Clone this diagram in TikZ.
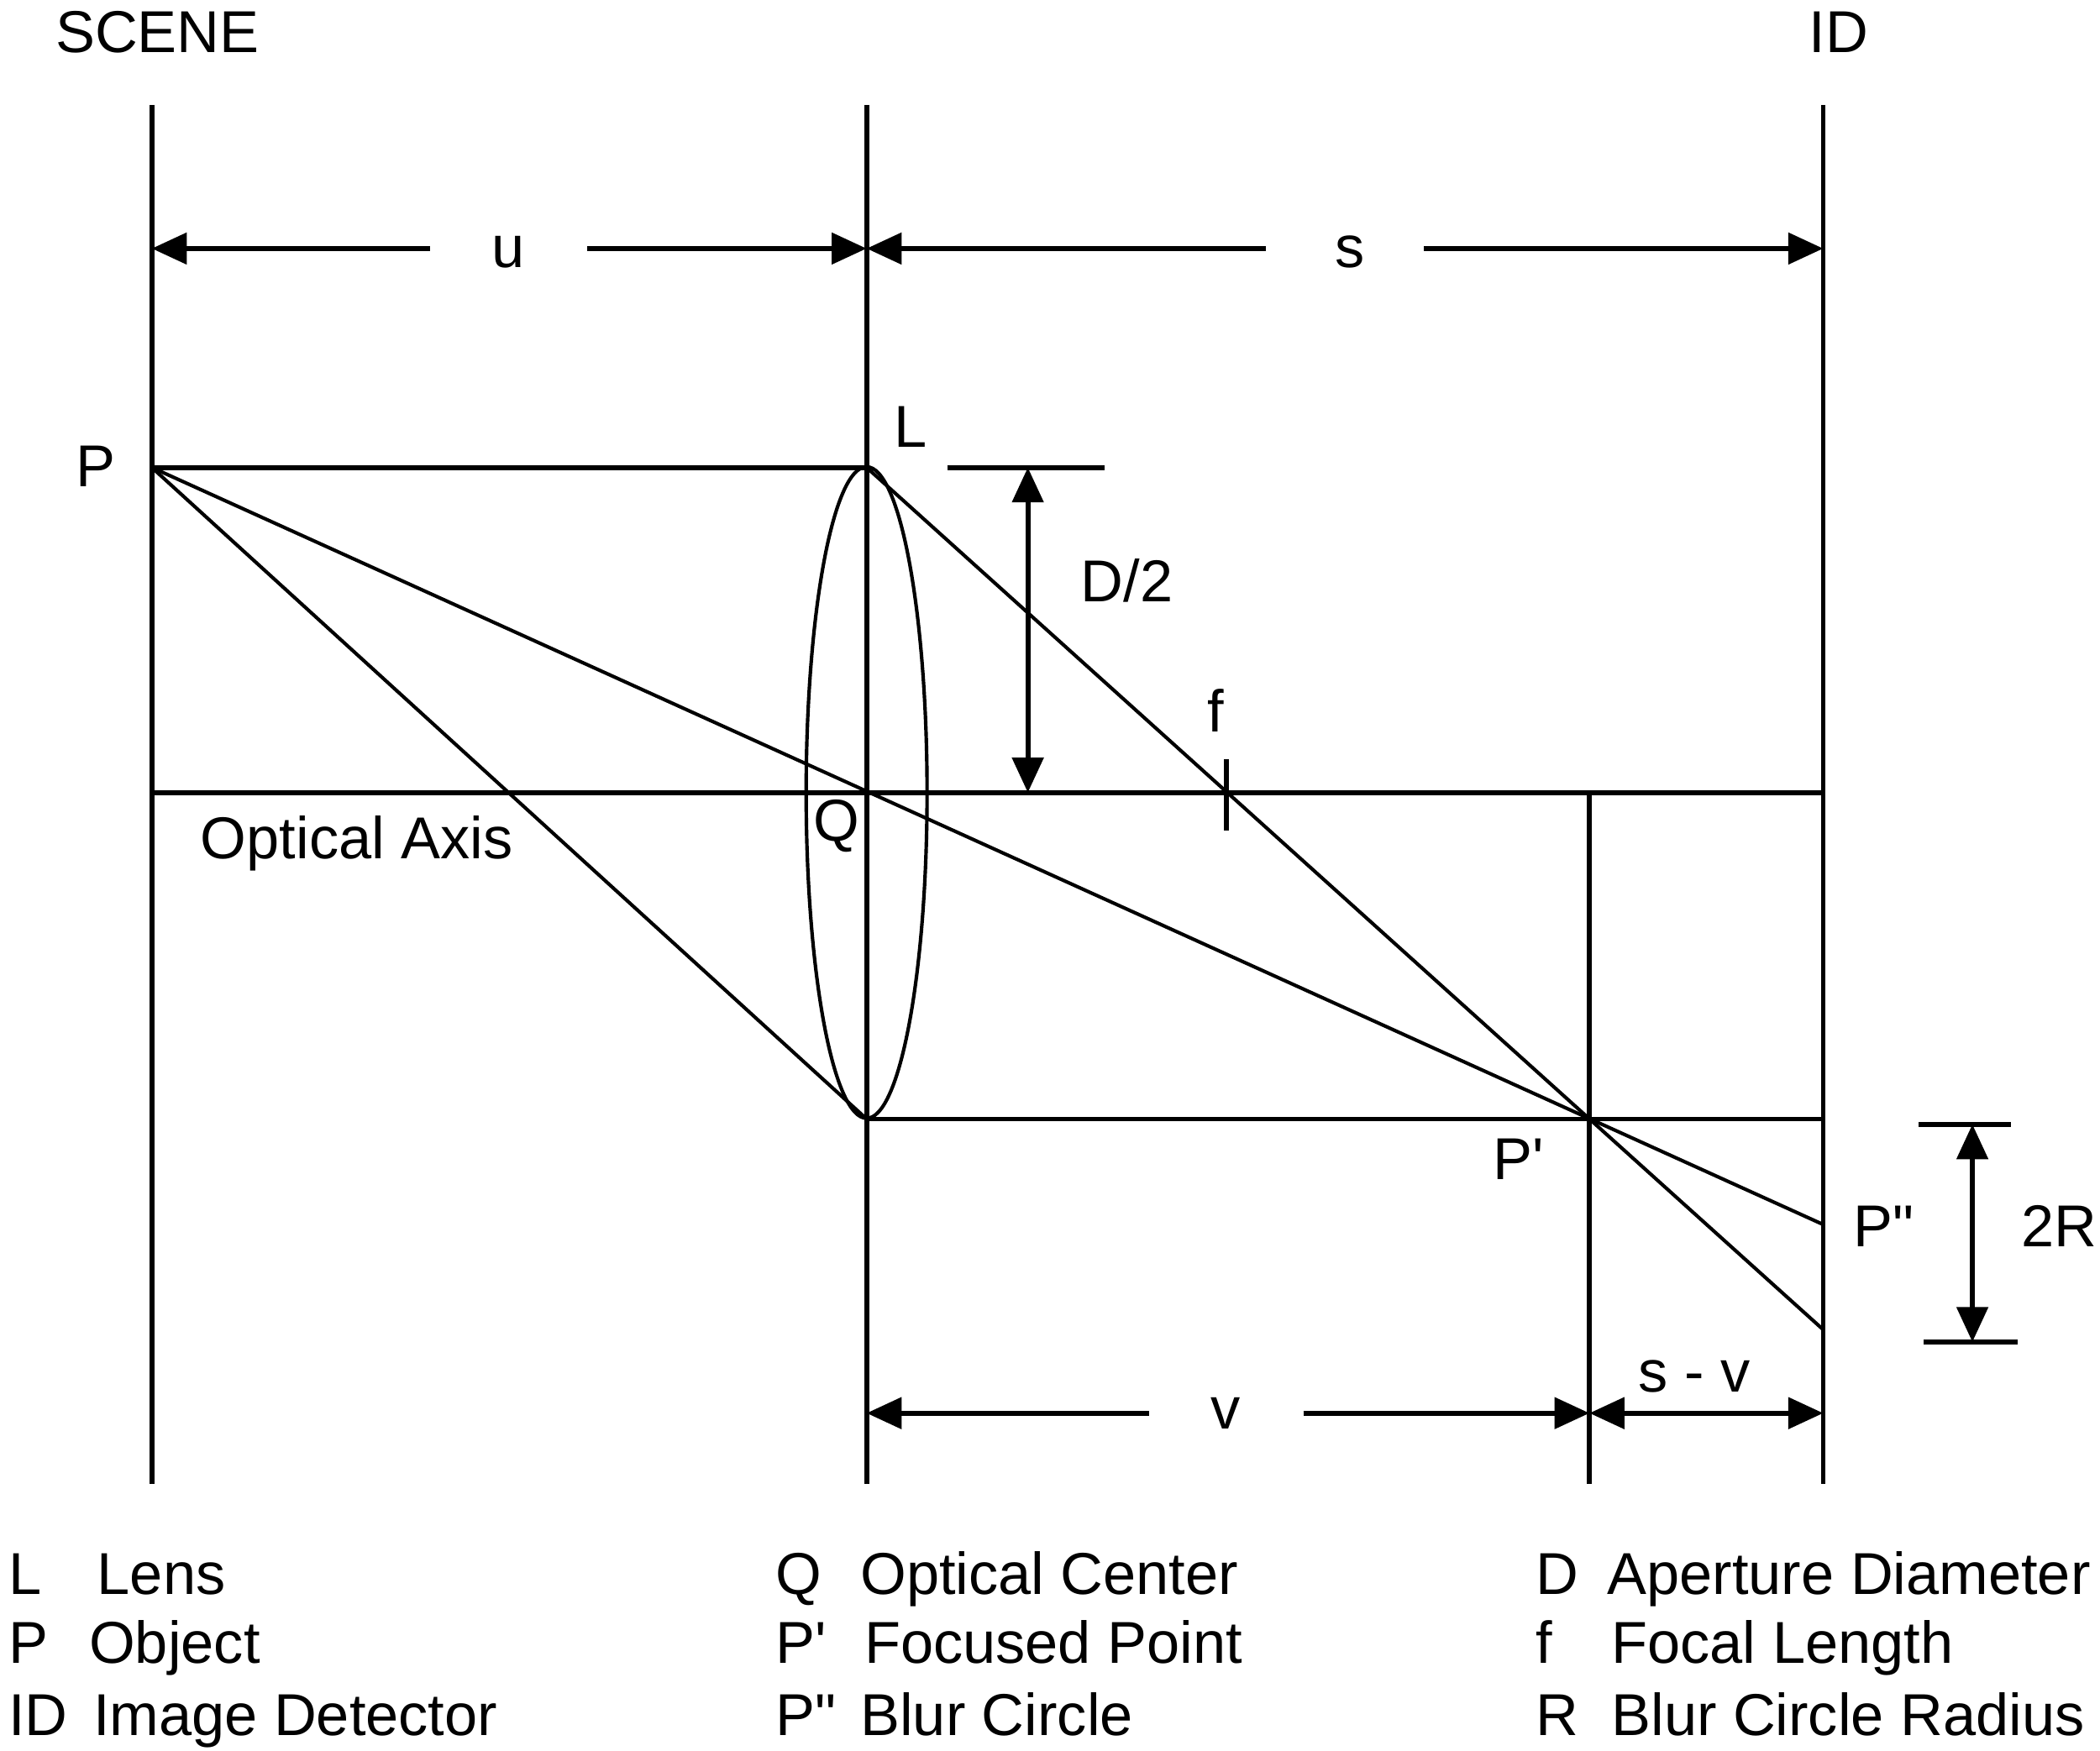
\documentclass[tikz,border=0pt]{standalone}
\usepackage{fontspec}
\setmainfont{Liberation Sans}[Ligatures=TeXOff]
\usetikzlibrary{arrows.meta,calc}
\begin{document}
\begin{tikzpicture}[x=0.5pt,y=-0.5pt,
  heavy/.style={line width=1.8pt},
  ray/.style={line width=1.3pt},
  lbl/.style={font=\fontsize{22}{26}\selectfont, inner sep=0pt, anchor=base west},
  clbl/.style={lbl, anchor=base},
  >={Triangle[length=13pt,width=11.5pt]}]
\useasboundingbox (0,0) rectangle (1563,1303);
% frame lines
\coordinate (St) at (113,78);   \coordinate (Sb) at (113,1105);
\coordinate (Lt) at (645,78);   \coordinate (Lb) at (645,1105);
\coordinate (It) at (1357,78);  \coordinate (Ib) at (1357,1105);
\coordinate (P) at (113,348);
\coordinate (Ltop) at (645,348);
\coordinate (Lbot) at (645,833);
\coordinate (Q) at (645,590);
\coordinate (Sax) at (113,590);
\coordinate (Iax) at (1357,590);
\coordinate (Pp) at (1183,833);
\coordinate (Ppa) at (1183,590);
\coordinate (Ppb) at (1183,1105);
\coordinate (Ibot) at (1357,833);
\coordinate (Ppp) at ($(Q)!1.3234!(Pp)$);
\coordinate (Pq) at ($(Ltop)!1.3234!(Pp)$);

\draw[heavy] (St) -- (Sb);
\draw[heavy] (Lt) -- (Lb);
\draw[heavy] (It) -- (Ib);
\draw[heavy] (Ppa) -- (Ppb);
\draw[heavy] (P) -- (Ltop);
\draw[heavy] (Sax) -- (Iax);
\draw[heavy] (Lbot) -- (Ibot);

% rays
\draw[ray] (P) -- (Lbot) -- (Pp);
\draw[ray] (P) -- (Ppp);
\draw[ray] (Ltop) -- (Pq);
% lens
\draw[ray] (Q) ellipse [x radius=22.5pt, y radius=121.25pt];

% u and s dimensions
\coordinate (ua) at (113,185);  \coordinate (ub) at (320,185);
\coordinate (uc) at (437,185);  \coordinate (ud) at (645,185);
\coordinate (sa) at (942,185);  \coordinate (sb) at (1060,185);
\coordinate (se) at (1357,185);
\draw[heavy,->] (ub) -- (ua);
\draw[heavy,->] (uc) -- (ud);
\draw[heavy,->] (sa) -- (ud);
\draw[heavy,->] (sb) -- (se);
\node[clbl] (ulab) at (378,199) {u};
\node[clbl] (slab) at (1005,199) {s};

% v and s-v dimensions
\coordinate (va) at (645,1052);  \coordinate (vb) at (855,1052);
\coordinate (vc) at (970,1052);  \coordinate (vd) at (1183,1052);
\coordinate (ve) at (1357,1052);
\draw[heavy,->] (vb) -- (va);
\draw[heavy,->] (vc) -- (vd);
\draw[heavy,<->] (vd) -- (ve);
\node[clbl] (vlab) at (912,1064) {v};
\node[lbl] (svlab) at (1219,1036) {s - v};

% D/2
\coordinate (Da) at (705,348); \coordinate (Db) at (822,348);
\coordinate (Dt) at (765,348); \coordinate (Dd) at (765,590);
\draw[heavy] (Da) -- (Db);
\draw[heavy,<->] (Dt) -- (Dd);
\node[lbl] (D2) at (804,448) {D/2};

% f tick
\coordinate (fa) at (913,565); \coordinate (fb) at (913,618);
\draw[heavy] (fa) -- (fb);
\node[lbl] (flab) at (898,545) {f};

% 2R
\coordinate (Ra) at (1428,837); \coordinate (Rb) at (1497,837);
\coordinate (Rc) at (1432,999); \coordinate (Rd) at (1502,999);
\coordinate (Rt) at (1468,837); \coordinate (Rbm) at (1468,999);
\draw[heavy] (Ra) -- (Rb);
\draw[heavy] (Rc) -- (Rd);
\draw[heavy,<->] (Rt) -- (Rbm);
\node[lbl] (R2) at (1504,928) {2R};

% point labels
\node[lbl] (scene) at (41,39) {SCENE};
\node[lbl] (idlab) at (1346,39) {ID};
\node[lbl] (Plab) at (56,362) {P};
\node[lbl] (Llab) at (665,333) {L};
\node[lbl] (Qlab) at (605,626) {Q};
\node[lbl] (axis) at (149,639) {Optical Axis};
\node[lbl] (Pplab) at (1111,878) {P\textquotesingle};
\node[lbl] (Ppplab) at (1379,928) {P\textquotedbl};

% legend
\node[lbl] (k1) at (6,1187) {L};
\node[lbl] (d1) at (72,1187) {Lens};
\node[lbl] (k2) at (6,1238) {P};
\node[lbl] (d2) at (66,1238) {Object};
\node[lbl] (k3) at (6,1292) {ID};
\node[lbl] (d3) at (69,1292) {Image Detector};
\node[lbl] (k4) at (577,1187) {Q};
\node[lbl] (d4) at (640,1187) {Optical Center};
\node[lbl] (k5) at (577,1238) {P\textquotesingle};
\node[lbl] (d5) at (643,1238) {Focused Point};
\node[lbl] (k6) at (577,1292) {P\textquotedbl};
\node[lbl] (d6) at (640,1292) {Blur Circle};
\node[lbl] (k7) at (1143,1187) {D};
\node[lbl] (d7) at (1196,1187) {Aperture Diameter};
\node[lbl] (k8) at (1143,1238) {f};
\node[lbl] (d8) at (1199,1238) {Focal Length};
\node[lbl] (k9) at (1143,1292) {R};
\node[lbl] (d9) at (1199,1292) {Blur Circle Radius};
\end{tikzpicture}
\end{document}
